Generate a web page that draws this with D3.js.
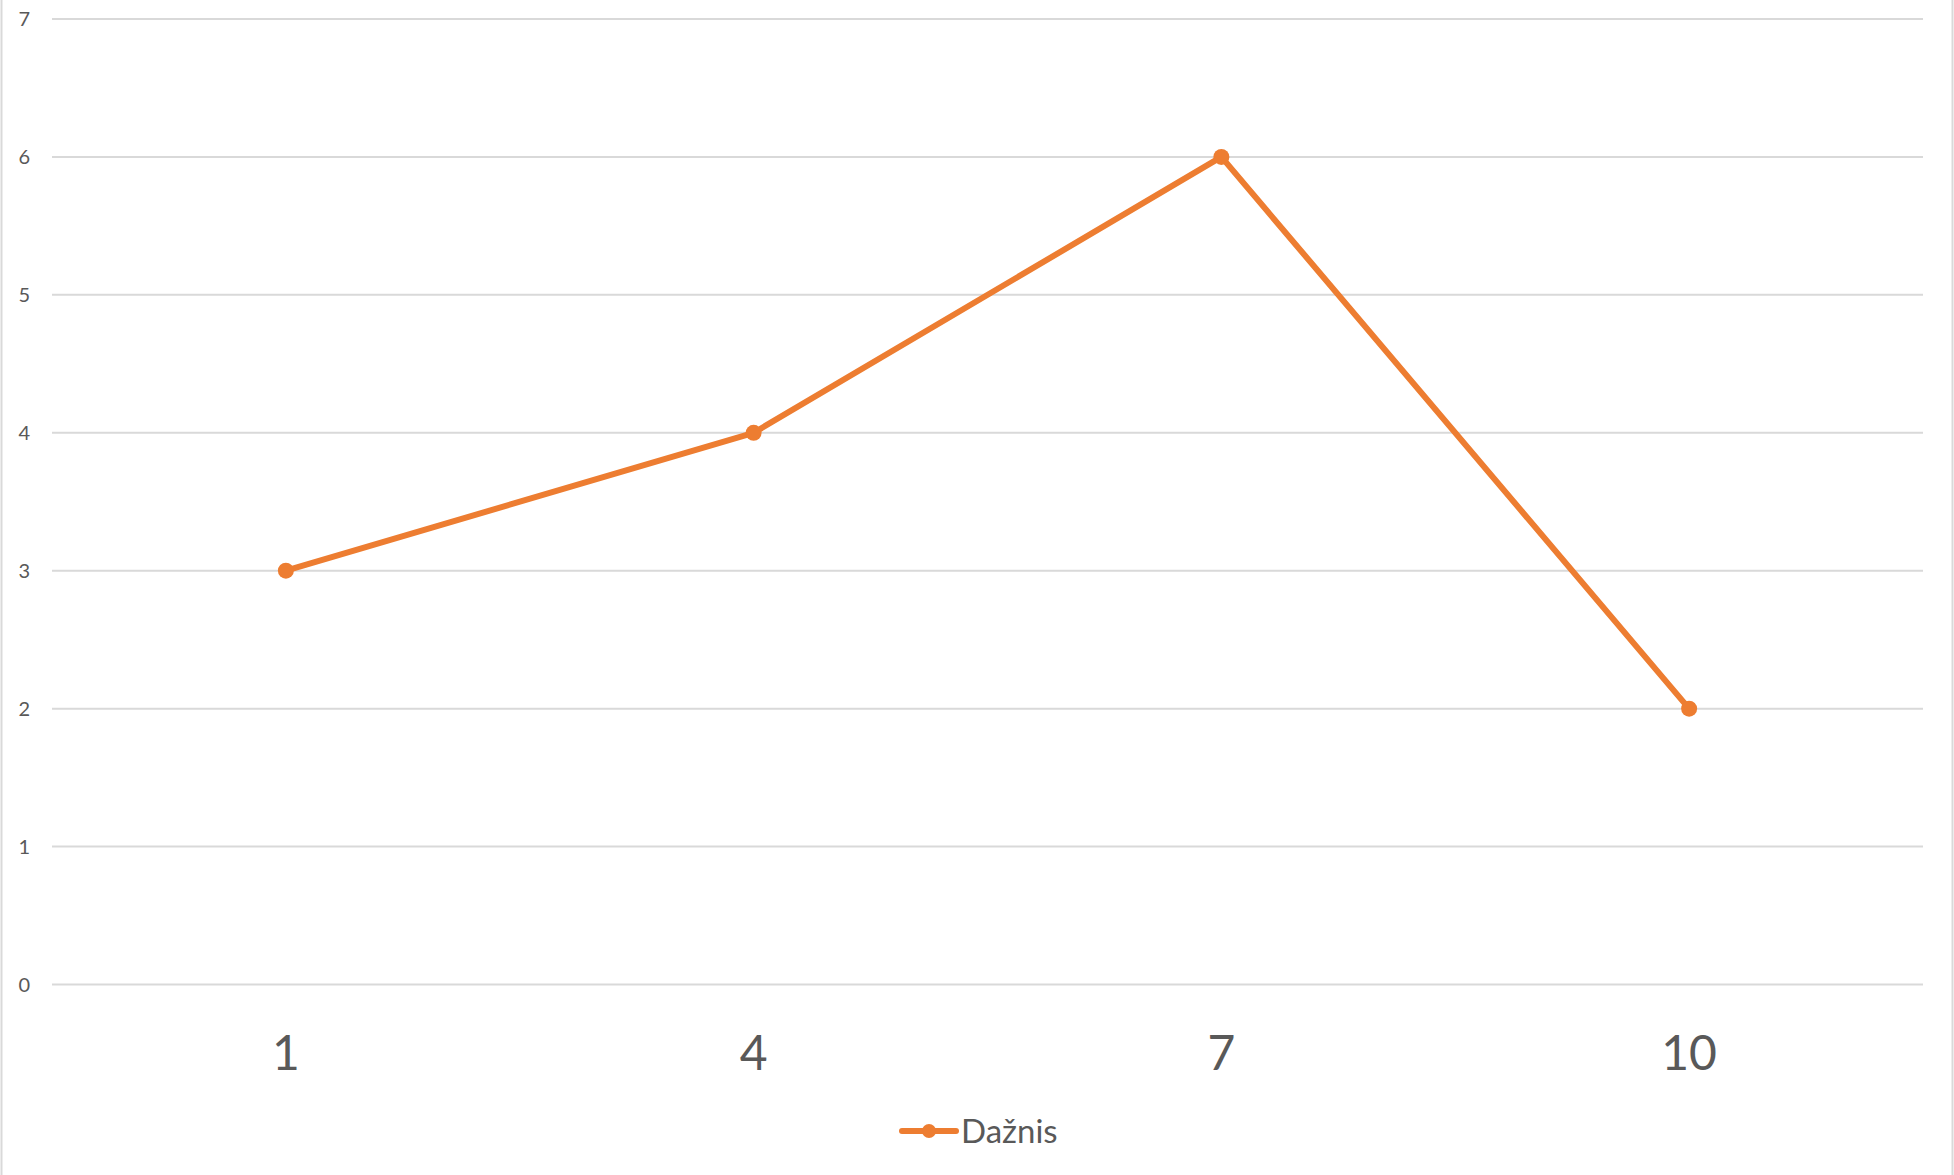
<!DOCTYPE html>
<html>
<head>
<meta charset="utf-8">
<script src="https://cdn.jsdelivr.net/npm/d3@7"></script>
<style>
  body { margin: 0; background: #fff; }
  text { font-family: Lato, "Open Sans", sans-serif; fill: #595959; }
</style>
</head>
<body>
<div id="maindiv"></div>
<script>
// chart data
var categories = ["1", "4", "7", "10"];
var values = [3, 4, 6, 2];
var yTicks = [0, 1, 2, 3, 4, 5, 6, 7];
var seriesName = "Dažnis";

var width = 1954;
var height = 1175;
var margin = { top: 19, bottom: 190, left: 52, right: 31 };
var orange = "#ED7D31";

var svg = d3.select("#maindiv")
    .append("svg")
    .attr("width", width)
    .attr("height", height);

// outer chart border
svg.append("rect")
    .attr("x", 1.5).attr("y", -2)
    .attr("width", width - 3).attr("height", height + 4)
    .attr("fill", "none")
    .attr("stroke", "#d9d9d9")
    .attr("stroke-width", 2);

var x = d3.scaleBand()
    .domain(categories)
    .range([margin.left, width - margin.right]);

var y = d3.scaleLinear()
    .domain([0, 7])
    .range([height - margin.bottom - 0.5, margin.top]);

// gridlines
svg.append("g")
    .selectAll("line")
    .data(yTicks)
    .enter()
    .append("line")
    .attr("x1", margin.left)
    .attr("x2", width - margin.right)
    .attr("y1", d => y(d))
    .attr("y2", d => y(d))
    .attr("stroke", "#d9d9d9")
    .attr("stroke-width", 2);

// y labels
svg.append("g")
    .selectAll("text")
    .data(yTicks)
    .enter()
    .append("text")
    .attr("x", 30)
    .attr("y", d => y(d))
    .attr("dy", "0.36em")
    .attr("text-anchor", "end")
    .attr("font-size", "20px")
    .text(d => d);

// x labels
svg.append("g")
    .selectAll("text")
    .data(categories)
    .enter()
    .append("text")
    .attr("x", d => x(d) + x.bandwidth() / 2)
    .attr("y", 1053)
    .attr("dy", "0.36em")
    .attr("text-anchor", "middle")
    .attr("font-size", "48px")
    .text(d => d);

var pts = categories.map((c, i) => [x(c) + x.bandwidth() / 2, y(values[i])]);

svg.append("path")
    .attr("d", d3.line()(pts))
    .attr("fill", "none")
    .attr("stroke", orange)
    .attr("stroke-width", 6)
    .attr("stroke-linejoin", "round")
    .attr("stroke-linecap", "round");

svg.append("g")
    .selectAll("circle")
    .data(pts)
    .enter()
    .append("circle")
    .attr("cx", d => d[0])
    .attr("cy", d => d[1])
    .attr("r", 8)
    .attr("fill", orange);

// legend
var leg = svg.append("g");
leg.append("line")
    .attr("x1", 902).attr("x2", 956)
    .attr("y1", 1131).attr("y2", 1131)
    .attr("stroke", orange)
    .attr("stroke-width", 6)
    .attr("stroke-linecap", "round");
leg.append("circle")
    .attr("cx", 929).attr("cy", 1131)
    .attr("r", 7)
    .attr("fill", orange);
leg.append("text")
    .attr("x", 961).attr("y", 1131)
    .attr("dy", "0.36em")
    .attr("font-size", "33px")
    .text(seriesName);
</script>
</body>
</html>
